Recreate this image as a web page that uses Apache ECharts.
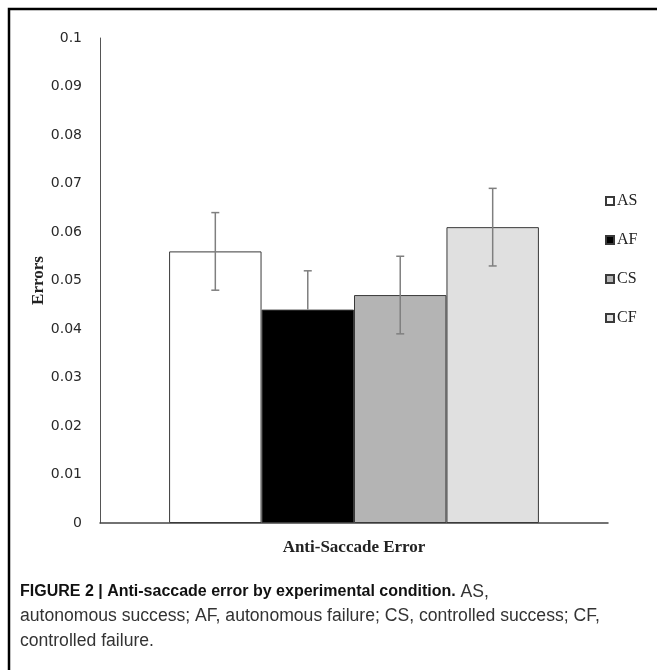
<!DOCTYPE html>
<html>
<head>
<meta charset="utf-8">
<script src="https://cdn.jsdelivr.net/npm/echarts@6/dist/echarts.min.js"></script>
<style>
html,body{margin:0;padding:0;background:#fff;}
#chart{width:657px;height:670px;}
</style>
</head>
<body>
<div id="chart"></div>
<script>
// ---- data ----
const categories = ['AS', 'AF', 'CS', 'CF'];
const values = [0.056, 0.044, 0.047, 0.061];
const errorPlus = [0.008, 0.008, 0.008, 0.008];
const errorMinus = [0.008, 0, 0.008, 0.008]; // AF lower whisker not visible in the picture
const xCategory = [''];
const yMin = 0, yMax = 0.1, yInterval = 0.01;

// ---- styles ----
const fillColors = ['#ffffff', '#000000', '#b4b4b4', '#e0e0e0'];
const barCategoryGapPct = 27.2;

const chart = echarts.init(document.getElementById('chart'), null, {renderer: 'canvas'});

const barSeries = categories.map((name, i) => ({
  name: name,
  type: 'bar',
  data: [values[i]],
  barGap: '0%',
  barCategoryGap: barCategoryGapPct + '%',
  itemStyle: { color: fillColors[i], borderColor: '#3a3a3a', borderWidth: 1 },
  emphasis: { disabled: true },
  z: 2
}));

const errorSeries = {
  type: 'custom',
  name: 'error',
  data: categories.map((c, i) => [i, values[i] - errorMinus[i], values[i] + errorPlus[i], values[i]]),
  renderItem: function (params, api) {
    const idx = api.value(0);
    const lo = api.coord([0, api.value(1)]);
    const hi = api.coord([0, api.value(2)]);
    const mid = api.coord([0, api.value(3)]);
    const band = api.size([1, 0])[0];
    const barW = band * (1 - barCategoryGapPct / 100) / categories.length;
    const x = lo[0] + (idx - (categories.length - 1) / 2) * barW;
    const cap = 4;
    const st = { stroke: '#7f7f7f', lineWidth: 1.5 };
    const children = [
      { type: 'line', shape: { x1: x, y1: lo[1], x2: x, y2: hi[1] }, style: st },
      { type: 'line', shape: { x1: x - cap, y1: hi[1], x2: x + cap, y2: hi[1] }, style: st }
    ];
    if (Math.abs(lo[1] - mid[1]) > 0.5) {
      children.push({ type: 'line', shape: { x1: x - cap, y1: lo[1], x2: x + cap, y2: lo[1] }, style: st });
    }
    return { type: 'group', children: children };
  },
  z: 5,
  silent: true
};

const option = {
  backgroundColor: '#ffffff',
  animation: false,
  grid: { left: 100, right: 49, top: 38, bottom: 147 },
  legend: {
    data: categories,
    orient: 'vertical',
    left: 600,
    top: 188,
    itemWidth: 8,
    itemHeight: 8,
    itemGap: 23,
    icon: 'rect',
    textStyle: { fontFamily: 'Liberation Serif', fontSize: 16, color: '#222', padding: [0, 0, 0, -2] },
    selectedMode: false
  },
  xAxis: {
    type: 'category',
    data: xCategory,
    name: 'Anti-Saccade Error',
    nameLocation: 'middle',
    nameGap: 16,
    nameMoveOverlap: false,
    nameTextStyle: { fontFamily: 'Liberation Serif', fontWeight: 'bold', fontSize: 17, color: '#222' },
    axisLine: { lineStyle: { color: '#444', width: 1.5 } },
    axisTick: { show: false },
    axisLabel: { show: false },
    splitLine: { show: false }
  },
  yAxis: {
    type: 'value',
    min: yMin,
    max: yMax,
    interval: yInterval,
    name: 'Errors',
    nameLocation: 'middle',
    nameGap: 53,
    nameRotate: 90,
    nameMoveOverlap: false,
    nameTextStyle: { fontFamily: 'Liberation Serif', fontWeight: 'bold', fontSize: 17, color: '#222' },
    axisLine: { show: true, lineStyle: { color: '#555', width: 1 } },
    axisTick: { show: false },
    splitLine: { show: false },
    axisLabel: {
      margin: 18,
      fontFamily: 'DejaVu Sans',
      fontSize: 14,
      color: '#2a2a2a',
      formatter: v => String(+v.toFixed(2))
    }
  },
  series: barSeries.concat([errorSeries]),
  graphic: [
    {
      type: 'polyline',
      shape: { points: [[9, 670], [9, 9], [657, 9]] },
      style: { stroke: '#000', lineWidth: 2.5, fill: null },
      silent: true
    },
    {
      type: 'text',
      left: 20,
      top: 583,
      style: {
        text: '{b|FIGURE 2 | Anti-saccade error by experimental condition.}{n| AS,}\n{n|autonomous success; AF, autonomous failure; CS, controlled success; CF,}\n{n|controlled failure.}',
        rich: {
          b: { fontFamily: 'Liberation Sans', fontWeight: 'bold', fontSize: 16, lineHeight: 24.5, fill: '#111' },
          n: { fontFamily: 'Liberation Sans', fontSize: 17.6, lineHeight: 24.5, fill: '#333' }
        }
      },
      silent: true
    }
  ]
};

chart.setOption(option);
</script>
</body>
</html>
